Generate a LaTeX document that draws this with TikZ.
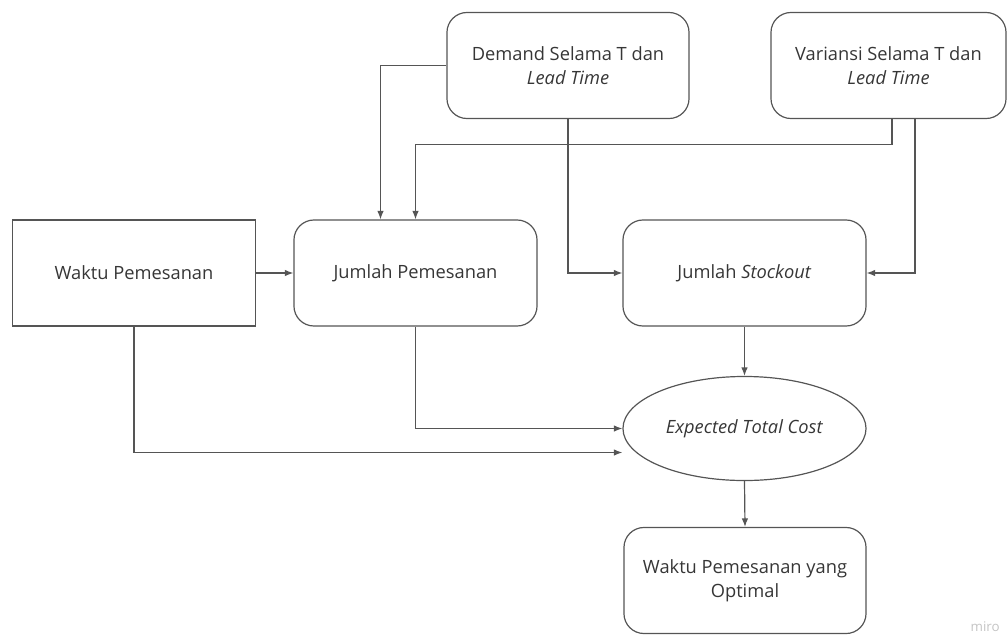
\documentclass[tikz,border=0pt]{standalone}
\usepackage{fontspec}
\setmainfont{Open Sans}
\usetikzlibrary{arrows.meta, shapes.geometric, calc, positioning}
\usepackage{xcolor}
\definecolor{linegray}{HTML}{555555}
\definecolor{textgray}{HTML}{363636}
\definecolor{markgray}{HTML}{C4C4C4}

\begin{document}
\begin{tikzpicture}[x=0.025cm, y=-0.025cm, >={Latex[length=6pt, width=4.6pt]},
    line width=0.85pt,
    every node/.style={font=\fontsize{13}{17.1}\selectfont, align=center, text=textgray},
    link/.style={draw=linegray, ->},
    block/.style={draw=linegray, inner sep=0pt, minimum width=6.075cm, minimum height=2.65cm},
    roundblock/.style={block, rounded corners=0.5cm}]

            \useasboundingbox (0,0) rectangle (1008,634);

            % Inputs on top
            \node[roundblock, minimum width=6.05cm] (demand) at (568,65.5)
                {Demand Selama T dan\\\textit{Lead Time}};
            \node[roundblock, minimum width=5.875cm] (variansi) at (888.5,65.5)
                {Variansi Selama T dan\\\textit{Lead Time}};

            % Middle row
            \node[block] (waktu) at (134,273) {Waktu Pemesanan};
            \node[roundblock] (jumlah) at (415.5,273) {Jumlah Pemesanan};
            \node[roundblock] (stockout) at (744.5,273) {Jumlah \textit{Stockout}};

            % Cost and result
            \node[ellipse, draw=linegray, inner sep=0pt,
                minimum width=6.075cm, minimum height=2.6cm] (cost)
            at (744.5,428.5) {\textit{Expected Total Cost}};
            \node[roundblock, minimum width=6.05cm] (optimal) at (745,580.5)
                {Waktu Pemesanan yang\\Optimal};

            \node[anchor=base east, text=markgray, font=\fontsize{9.5}{11}\selectfont]
                (miro) at (1005,631) {miro};

            % Demand and variance feed the order quantity
            \draw[link] (demand.west) -| ($(jumlah.north)+(-35,0)$);
            \draw[link] ($(variansi.south)+(3.5,0)$) -- ++(0,25) -| (jumlah.north);

            % Demand and variance feed the stockout
            \draw[link] (demand.south) |- (stockout.west);
            \draw[link] ($(variansi.south)+(26.5,0)$) |- (stockout.east);

            \draw[link] (waktu.east) -- (jumlah.west);
            \draw[link] (stockout.south) -- (cost.north);
            \draw[link] (cost.south) -- (optimal.north);

            % Both order boxes into the cost
            \foreach \src/\dy in {jumlah/0, waktu/24} {
                \draw[link] (\src.south) |- ($(cost.west)+(0,\dy)$);
            }

        \end{tikzpicture}
\end{document}
